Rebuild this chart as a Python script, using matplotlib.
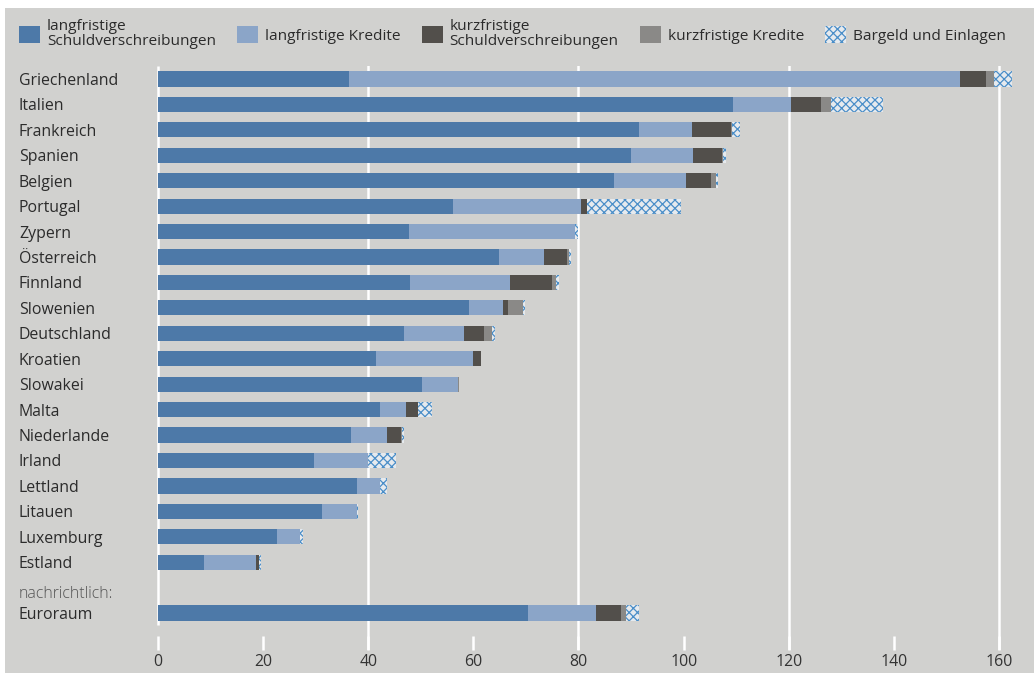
import matplotlib
matplotlib.use("Agg")
import matplotlib.pyplot as plt
from matplotlib.patches import Patch, Rectangle
import matplotlib.transforms as mtransforms

plt.rcParams['font.family'] = ['Open Sans', 'DejaVu Sans']
plt.rcParams['hatch.linewidth'] = 0.9

countries = ["Griechenland", "Italien", "Frankreich", "Spanien", "Belgien", "Portugal",
             "Zypern", "Österreich", "Finnland", "Slowenien", "Deutschland", "Kroatien",
             "Slowakei", "Malta", "Niederlande", "Irland", "Lettland", "Litauen",
             "Luxemburg", "Estland", "Euroraum"]
positions = list(range(20)) + [21]

lang_schuld = [36.3, 109.4, 91.5, 90.0, 86.8, 56.1, 47.7, 64.8, 47.9, 59.1, 46.8, 41.4,
               50.3, 42.3, 36.7, 29.7, 37.9, 31.2, 22.6, 8.7, 70.4]
lang_kred = [116.2, 11.1, 10.1, 11.7, 13.6, 24.4, 31.6, 8.6, 19.1, 6.5, 11.4, 18.5,
             6.8, 4.8, 6.8, 10.2, 4.4, 6.7, 4.4, 9.9, 12.9]
kurz_schuld = [5.0, 5.7, 7.5, 5.7, 4.9, 1.1, 0.0, 4.4, 8.0, 0.9, 3.9, 1.6,
               0.0, 2.3, 2.8, 0.0, 0.0, 0.0, 0.0, 0.7, 4.7]
kurz_kred = [1.6, 1.9, 0.2, 0.1, 0.9, 0.1, 0.1, 0.4, 0.7, 2.9, 1.5, 0.0,
             0.2, 0.0, 0.1, 0.1, 0.0, 0.0, 0.0, 0.0, 1.0]
bargeld = [3.3, 9.8, 1.5, 0.5, 0.3, 17.8, 0.5, 0.4, 0.5, 0.4, 0.5, 0.0,
           0.0, 2.7, 0.4, 5.3, 1.2, 0.2, 0.5, 0.3, 2.6]

series_labels = ["langfristige\nSchuldverschreibungen", "langfristige Kredite",
                 "kurzfristige\nSchuldverschreibungen", "kurzfristige Kredite",
                 "Bargeld und Einlagen"]
xticks = [0, 20, 40, 60, 80, 100, 120, 140, 160]
gridlines = [40, 80, 120, 160]

col_ls = '#4d79a8'
col_lk = '#8ba5c8'
col_ks = '#524f4b'
col_kk = '#8a8987'
col_b_face = '#e6eaee'
col_b_hatch = '#4a8ec8'
bg = '#d1d1cf'
txt = '#2b2b2b'
FS = 11.4
LFS = 11.1

W, H = 1034, 673
fig = plt.figure(figsize=(W / 100, H / 100), dpi=100)
fig.patch.set_facecolor('white')
fig.patches.append(Rectangle((5 / W, 0), 1, (H - 8) / H, transform=fig.transFigure,
                             facecolor=bg, edgecolor='none', zorder=-10))

scale = 5.256  # px per unit
x0_px = 158
xmin = -0.5
left_px = x0_px + xmin * scale
xmax = (W - x0_px) / scale
top_px, bot_px = 66, 650
ax = fig.add_axes([left_px / W, (H - bot_px) / H, (W - left_px) / W, (bot_px - top_px) / H])
ax.set_facecolor('none')
for s in ax.spines.values():
    s.set_visible(False)
ax.set_xlim(xmin, xmax)
row0_px, step_px = 79, 25.43
ax.set_ylim((bot_px - row0_px) / step_px, (top_px - row0_px) / step_px)

# grid lines
for g in gridlines:
    ax.axvline(g, color='white', lw=1.8, zorder=1)
ax.vlines(0, (top_px - row0_px) / step_px, (625 - row0_px) / step_px, color='white', lw=1.8, zorder=1)

h = 0.6
left = [0.0] * len(countries)
for vals, col in [(lang_schuld, col_ls), (lang_kred, col_lk), (kurz_schuld, col_ks), (kurz_kred, col_kk)]:
    ax.barh(positions, vals, left=left, height=h, color=col, edgecolor='none', zorder=3)
    left = [a + b for a, b in zip(left, vals)]
ax.barh(positions, bargeld, left=left, height=h, facecolor=col_b_face, edgecolor=col_b_hatch,
        linewidth=0, hatch='xxxx', zorder=3)

# x ticks
ax.set_xticks(xticks)
ax.set_xticklabels([str(t) for t in xticks])
ax.tick_params(axis='x', direction='in', length=10, width=1.8, color='white', pad=3,
               labelsize=FS, labelcolor='#333333')

# y labels
ax.set_yticks(positions)
ax.set_yticklabels(countries)
pad_pt = (left_px - 19) * 72 / 100
ax.tick_params(axis='y', length=0, pad=pad_pt, labelsize=FS, labelcolor=txt)
for lab in ax.get_yticklabels():
    lab.set_horizontalalignment('left')

trans = mtransforms.blended_transform_factory(fig.transFigure, ax.transData)
ax.text(19 / W, 20.25, "nachrichtlich:", transform=trans, ha='left', va='center',
        fontsize=FS, color='#555555', fontweight='light')

# legend
handles = [Patch(facecolor=col_ls, edgecolor='none'),
           Patch(facecolor=col_lk, edgecolor='none'),
           Patch(facecolor=col_ks, edgecolor='none'),
           Patch(facecolor=col_kk, edgecolor='none'),
           Patch(facecolor=col_b_face, edgecolor=col_b_hatch, linewidth=0, hatch='xxxx')]
fs = LFS * 100 / 72
leg = fig.legend(handles, series_labels, loc='upper left', bbox_to_anchor=(19 / W, 1 - 19 / H),
                 ncol=5, frameon=False, fontsize=LFS, handlelength=21 / fs, handleheight=21 / fs,
                 handletextpad=7 / fs, columnspacing=21 / fs, borderpad=0, borderaxespad=0,
                 labelspacing=0)
for t in leg.get_texts():
    t.set_color(txt)
    t.set_linespacing(1.0)

fig.savefig('out.png', dpi=100, facecolor=fig.get_facecolor())
